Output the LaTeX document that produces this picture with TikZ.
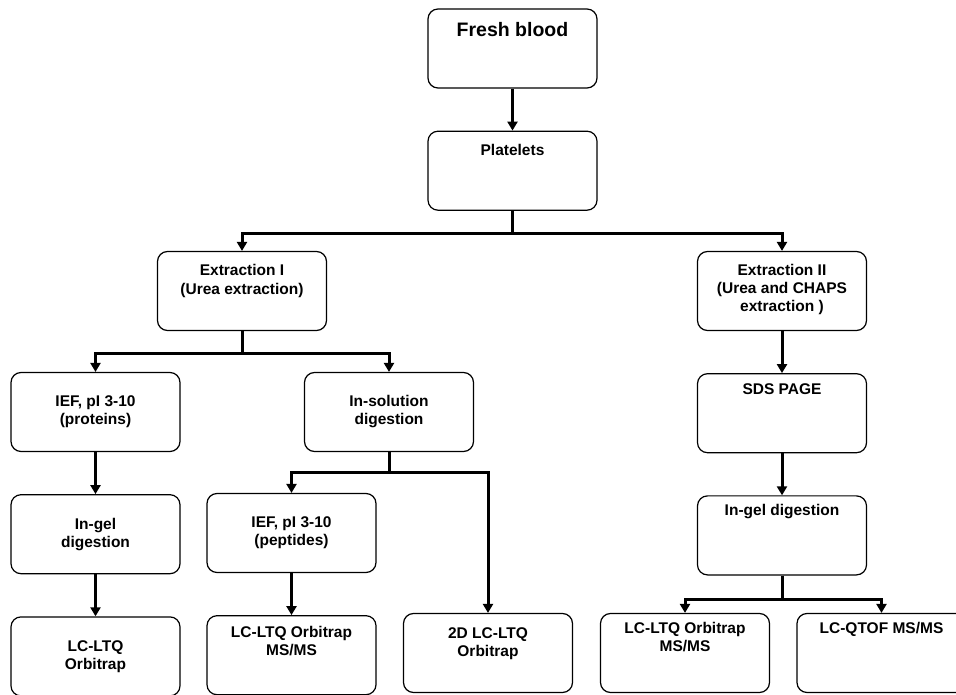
\documentclass[tikz,border=0pt]{standalone}
\usepackage{fontspec}
\setmainfont{Liberation Sans}
\usetikzlibrary{arrows.meta,positioning}
\tikzset{
  box/.style={rectangle, draw, line width=1.2pt, rounded corners=10pt, minimum width=169pt, minimum height=79pt, align=center, inner sep=0pt, font=\fontsize{15.5}{18}\selectfont\bfseries},
  bigbox/.style={box, font=\fontsize{19.5}{22}\selectfont\bfseries},
  arr/.style={-{Triangle[length=9pt,width=10pt]}, line width=3pt}
}

\begin{document}
\begin{tikzpicture}[x=1pt, y=1pt, node distance=42pt]
\useasboundingbox (0,0) rectangle (956,694);
% top of the tree
\node[bigbox, text depth=37.6pt] (fresh) at (512.5,645.5) {Fresh blood};
\node[box, text depth=40.9pt, below=of fresh] (plat) {Platelets};
\node[box, text depth=22.9pt, font=\fontsize{15.5}{19}\selectfont\bfseries] (ext1) at (242,403) {Extraction I\\(Urea extraction)};
\node[box, text depth=5.3pt] (ext2) at (782,403) {Extraction II\\(Urea and CHAPS\\extraction )};
% extraction I branch
\node[box] (ief1) at (95.5,282) {IEF, pI 3-10\\(proteins)};
\node[box] (insol) at (389,282) {In-solution\\digestion};
\node[box, below=of ief1] (ingel1) {In-gel\\digestion};
\node[box] (ief2) at (291.5,161) {IEF, pI 3-10\\(peptides)};
\node[box, below=of ingel1] (lc1) {LC-LTQ\\Orbitrap};
\node[box, text depth=27.9pt, below=of ief2] (lc2) {LC-LTQ Orbitrap\\MS/MS};
\node[box, text depth=21.9pt] (lc3) at (488,41) {2D LC-LTQ\\Orbitrap};
% extraction II branch
\node[box, text depth=48.5pt, below=of ext2] (sds) {SDS PAGE};
\node[box, text depth=50.5pt, below=of sds] (ingel2) {In-gel digestion};
\node[box, text depth=32.5pt] (lc4) at (685,41) {LC-LTQ Orbitrap\\MS/MS};
\node[box, text depth=49.9pt] (lc5) at (881.5,41) {LC-QTOF MS/MS};

\draw[arr] (fresh) -- (plat);
\draw[arr] (plat.south) -- ++(0,-22.5) -| (ext1.north);
\draw[arr] (plat.south) -- ++(0,-22.5) -| (ext2.north);
\draw[arr] (ext1.south) -- ++(0,-22.5) -| (ief1.north);
\draw[arr] (ext1.south) -- ++(0,-22.5) -| (insol.north);
\draw[arr] (insol.south) -- ++(0,-20.5) -| (ief2.north);
\draw[arr] (insol.south) -- ++(0,-20.5) -| (lc3.north);
\draw[arr] (ief1) -- (ingel1);
\draw[arr] (ingel1) -- (lc1);
\draw[arr] (ief2) -- (lc2);
\draw[arr] (ext2) -- (sds);
\draw[arr] (sds) -- (ingel2);
\draw[arr] (ingel2.south) -- ++(0,-23.5) -| (lc4.north);
\draw[arr] (ingel2.south) -- ++(0,-23.5) -| (lc5.north);
\end{tikzpicture}
\end{document}
